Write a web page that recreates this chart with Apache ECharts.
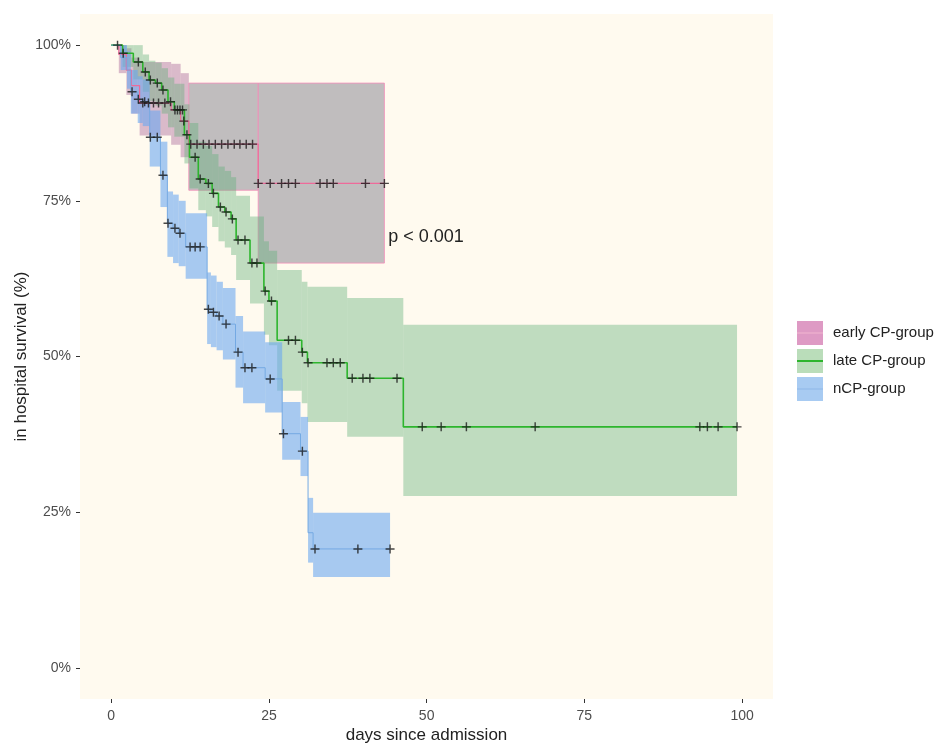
<!DOCTYPE html>
<html><head><meta charset="utf-8">
<script src="https://cdn.jsdelivr.net/npm/echarts@6/dist/echarts.min.js"></script>
<style>html,body{margin:0;padding:0;background:#fff}#c{width:935px;height:744px}</style>
</head><body><div id="c"></div>
<script>
// ---------------- data ----------------
const groupNames = ['early CP-group', 'late CP-group', 'nCP-group'];
const xTicks = [0, 25, 50, 75, 100];
const yTicks = [0, 25, 50, 75, 100];
const pText = 'p < 0.001';
const pDay = 43.9;
const pSurv = 69.2;

const earlyTimes = [0, 1.2, 2.4, 3.2, 4.5, 9.5, 11.0, 12.3, 23.3];
const earlySurv  = [100, 98.5, 96.0, 93.5, 90.7, 89.6, 87.8, 84.1, 77.8];
const earlyLower = [100, 95.5, 92.0, 89.0, 85.5, 84.0, 82.0, 76.7, 65.0];
const earlyUpper = [100, 100, 99.5, 98.0, 97.3, 97.0, 95.5, 93.9, 93.9];
const earlyCensor = [1.0, 5.0, 5.9, 6.7, 7.5, 8.5, 10.1, 10.9, 11.5, 12.6, 13.6, 14.6, 15.5, 16.5, 17.5, 18.5, 19.5, 20.4, 21.4, 22.4, 23.3, 25.2, 27.0, 28.1, 29.2, 33.1, 34.2, 35.2, 40.3, 43.3];
const earlyEnd = 43.3;

const lateTimes = [0, 1.8, 3.5, 5.0, 6.0, 7.0, 8.0, 9.0, 10.0, 11.6, 12.4, 13.8, 15.0, 16.0, 17.0, 18.0, 19.0, 19.8, 22.0, 24.2, 25.0, 26.3, 30.2, 31.1, 37.4, 46.3];
const lateSurv  = [100, 98.7, 97.3, 95.7, 94.4, 93.9, 92.8, 90.9, 89.6, 85.6, 82.0, 78.5, 77.8, 76.2, 74.0, 73.2, 72.1, 68.7, 65.0, 60.5, 58.9, 52.6, 50.7, 49.0, 46.5, 38.7];
const lateLower = [100, 96.5, 94.5, 92.5, 91.0, 90.3, 89.0, 86.8, 85.3, 81.0, 77.0, 73.5, 72.5, 70.8, 68.5, 67.5, 66.3, 62.3, 58.5, 53.5, 51.8, 44.5, 42.5, 39.5, 37.1, 27.6];
const lateUpper = [100, 100, 100, 98.5, 97.5, 97.2, 96.3, 94.8, 93.8, 90.5, 87.5, 84.5, 83.8, 82.5, 80.5, 79.8, 78.8, 75.8, 72.5, 68.5, 67.0, 63.9, 62.0, 61.2, 59.4, 55.1];
const lateCensor = [1.9, 4.3, 5.4, 6.2, 7.3, 8.2, 9.4, 10.5, 11.3, 12.0, 13.3, 14.1, 15.4, 16.2, 17.3, 18.2, 19.2, 20.1, 21.2, 22.3, 23.1, 24.4, 25.4, 28.1, 29.2, 30.3, 31.2, 34.2, 35.2, 36.3, 38.2, 39.9, 41.0, 45.3, 49.3, 52.3, 56.3, 67.2, 93.3, 94.5, 96.2, 99.2];
const lateEnd = 99.2;

const ncpTimes = [0, 1.5, 2.5, 3.1, 4.2, 5.0, 6.1, 7.8, 8.9, 9.8, 10.7, 11.8, 15.2, 15.8, 16.7, 17.7, 19.7, 20.9, 24.4, 27.1, 30.0, 31.2, 32.0];
const ncpSurv  = [100, 98.0, 96.0, 92.5, 91.3, 90.9, 85.2, 79.1, 71.4, 70.6, 69.8, 67.6, 57.6, 57.1, 56.5, 55.2, 50.7, 48.2, 46.4, 37.6, 34.8, 21.7, 19.1];
const ncpLower = [100, 96.0, 93.0, 89.0, 87.5, 87.0, 80.5, 74.0, 66.0, 65.0, 64.5, 62.5, 52.0, 51.5, 51.0, 49.5, 45.0, 42.5, 41.0, 33.4, 30.8, 16.9, 14.6];
const ncpUpper = [100, 100, 99.0, 96.0, 95.0, 94.5, 89.5, 84.5, 76.5, 76.0, 75.0, 73.0, 63.5, 63.0, 62.0, 61.0, 56.5, 54.0, 52.3, 42.7, 40.3, 27.3, 24.9];
const ncpCensor = [3.3, 4.3, 5.3, 6.2, 7.3, 8.2, 9.0, 10.1, 10.9, 12.5, 13.3, 14.1, 15.4, 16.2, 17.1, 18.2, 20.1, 21.2, 22.3, 25.2, 27.3, 30.3, 32.3, 39.1, 44.2];
const ncpEnd = 44.2;

// ---------------- styles ----------------
const FONT = '"Liberation Sans", Arial, Helvetica, sans-serif';
const STYLES = [
  { band: 'rgba(178,118,160,0.48)', bandGrey: 'rgba(150,149,157,0.60)', greyStroke: 'rgba(242,150,188,0.9)', greyFrom: 12.3,
    line: '#EE6A9A', lineWidth: 1.2, key: '#DE9AC4', keyLine: '#F2B6CF', keyLineW: 1.2 },
  { band: 'rgba(95,174,120,0.40)', line: '#2DB52D', lineWidth: 1.6, key: '#BADDBA', keyLine: '#2DB52D', keyLineW: 1.8 },
  { band: 'rgba(108,168,240,0.60)', line: '#74A9E3', lineWidth: 1.0, key: '#A8CBF2', keyLine: '#8DB8E8', keyLineW: 1.0 }
];
const PLUS = 'path://M4.2,0H5.8V4.2H10V5.8H5.8V10H4.2V5.8H0V4.2H4.2Z';

// ---------------- helpers ----------------
function bandData(times, lower, upper, end) {
  return times.map((t, i) => [t, i < times.length - 1 ? times[i + 1] : end, lower[i], upper[i]]);
}
function lineData(times, surv, end) {
  const d = times.map((t, i) => [t, surv[i]]);
  d.push([end, surv[surv.length - 1]]);
  return d;
}
function survAt(times, surv, t) {
  let s = surv[0];
  for (let i = 0; i < times.length; i++) { if (times[i] <= t) s = surv[i]; }
  return s;
}
function censorData(censor, times, surv) {
  return censor.map(c => [c, survAt(times, surv, c)]);
}

const groups = [
  { times: earlyTimes, surv: earlySurv, lower: earlyLower, upper: earlyUpper, censor: earlyCensor, end: earlyEnd },
  { times: lateTimes, surv: lateSurv, lower: lateLower, upper: lateUpper, censor: lateCensor, end: lateEnd },
  { times: ncpTimes, surv: ncpSurv, lower: ncpLower, upper: ncpUpper, censor: ncpCensor, end: ncpEnd }
];

const series = [];
groups.forEach((g, gi) => {
  const st = STYLES[gi];
  series.push({
    type: 'custom', name: groupNames[gi], silent: true, z: 1,
    data: bandData(g.times, g.lower, g.upper, g.end),
    encode: { x: [0, 1], y: [2, 3] },
    renderItem: function (params, api) {
      const t0 = api.value(0), t1 = api.value(1), lo = api.value(2), up = api.value(3);
      const a = api.coord([t0, up]);
      const b = api.coord([t1, lo]);
      const grey = (st.greyFrom != null && t0 >= st.greyFrom);
      const style = { fill: grey ? st.bandGrey : st.band };
      if (grey) { style.stroke = st.greyStroke; style.lineWidth = 1; }
      return { type: 'rect', shape: { x: a[0], y: a[1], width: b[0] - a[0], height: b[1] - a[1] }, style: style };
    }
  });
});
groups.forEach((g, gi) => {
  const st = STYLES[gi];
  series.push({
    type: 'line', name: groupNames[gi], silent: true, z: 3, step: 'end', symbol: 'none',
    data: lineData(g.times, g.surv, g.end),
    lineStyle: { color: st.line, width: st.lineWidth }, itemStyle: { color: st.line }
  });
});
groups.forEach((g, gi) => {
  series.push({
    type: 'scatter', name: groupNames[gi], silent: true, z: 4,
    data: censorData(g.censor, g.times, g.surv),
    symbol: PLUS, symbolSize: 9, itemStyle: { color: '#1a1a1a' }
  });
});

function linePath(w) {
  const y0 = 12 - w / 2, y1 = 12 + w / 2;
  return 'path://M0,0h0.01v0.01h-0.01z M0,' + y0 + 'H26V' + y1 + 'H0z M25.99,23.99h0.01v0.01h-0.01z';
}

const legendBase = {
  orient: 'vertical', left: 797, top: 321, itemWidth: 26, itemHeight: 24, itemGap: 4,
  symbolKeepAspect: false, selectedMode: false, padding: 0
};

const option = {
  backgroundColor: '#ffffff',
  animation: false,
  grid: { left: 80, right: 162, top: 14, bottom: 45, show: true, backgroundColor: '#FFFAEF', borderWidth: 0,
          containLabel: false, outerBoundsMode: 'none' },
  xAxis: {
    type: 'value', min: -4.95, max: 104.9,
    axisLine: { show: false, onZero: false },
    splitLine: { show: false },
    axisTick: { show: true, customValues: xTicks, length: 4, lineStyle: { color: '#333333', width: 1 } },
    axisLabel: { customValues: xTicks, color: '#4D4D4D', fontSize: 14, margin: 10, fontFamily: FONT },
    name: 'days since admission', nameLocation: 'middle', nameGap: 28, nameMoveOverlap: false,
    nameTextStyle: { fontSize: 17, color: '#222222', fontFamily: FONT }
  },
  yAxis: {
    type: 'value', min: -5, max: 105,
    axisLine: { show: false, onZero: false },
    splitLine: { show: false },
    axisTick: { show: true, customValues: yTicks, length: 4, lineStyle: { color: '#333333', width: 1 } },
    axisLabel: { customValues: yTicks, color: '#4D4D4D', fontSize: 14, margin: 9, fontFamily: FONT, formatter: '{value}%' },
    name: 'in hospital survival (%)', nameLocation: 'middle', nameGap: 50, nameMoveOverlap: false,
    nameTextStyle: { fontSize: 17, color: '#222222', fontFamily: FONT }
  },
  legend: [
    Object.assign({}, legendBase, {
      z: 4,
      textStyle: { fontSize: 15, color: '#222222', fontFamily: FONT, padding: [0, 0, 0, 5] },
      data: groupNames.map((n, i) => ({ name: n, icon: 'rect', itemStyle: { color: STYLES[i].key, borderWidth: 0 } }))
    }),
    Object.assign({}, legendBase, {
      z: 5,
      textStyle: { fontSize: 15, color: 'rgba(0,0,0,0)', fontFamily: FONT, padding: [0, 0, 0, 5] },
      data: groupNames.map((n, i) => ({ name: n, icon: linePath(STYLES[i].keyLineW), itemStyle: { color: STYLES[i].keyLine, borderWidth: 0 } }))
    })
  ],
  series: series
};

const chart = echarts.init(document.getElementById('c'), null, { renderer: 'canvas' });
chart.setOption(option);
const pp = chart.convertToPixel({ gridIndex: 0 }, [pDay, pSurv]);
chart.setOption({
  graphic: [{
    type: 'text', x: pp[0], y: pp[1], z: 10,
    style: { text: pText, fill: '#222222', fontSize: 18, fontFamily: FONT, verticalAlign: 'middle', align: 'left' }
  }]
});
</script>
</body></html>
